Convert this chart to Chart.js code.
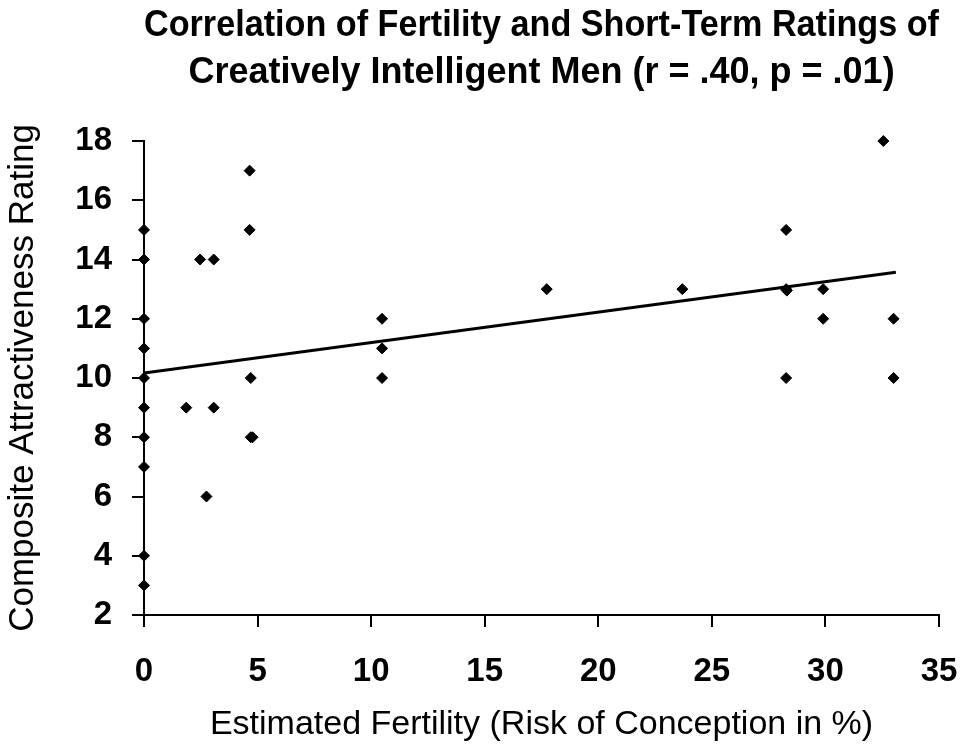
<!DOCTYPE html>
<html lang="en">
<head>
<meta charset="UTF-8">
<title>Fertility and Short-Term Ratings</title>
<script src="https://cdn.jsdelivr.net/npm/chart.js"></script>
<style>
  html, body { margin: 0; padding: 0; background: #fff; }
  #wrap { width: 965px; height: 747px; }
</style>
</head>
<body>
<div id="wrap"><canvas id="chart" width="965" height="747"></canvas></div>
<script>
// values
const fertility = [0, 0, 0, 0, 0, 0, 0, 0, 0, 0,
                   1.86, 2.47, 2.75, 3.07, 3.07,
                   4.65, 4.65, 4.7, 4.7, 4.78,
                   10.48, 10.48, 10.48,
                   17.73, 23.7,
                   28.27, 28.27, 28.3, 28.27,
                   29.9, 29.9, 32.55, 33.0, 33.0];
const rating    = [15, 14, 12, 11, 10, 9, 8, 7, 4, 3,
                   9, 14, 6, 14, 9,
                   17, 15, 10, 8, 8,
                   12, 11, 10,
                   13, 13,
                   15, 13, 12.95, 10,
                   13, 12, 18, 12, 10];

// fitted regression line (end points)
const trendX = [0, 33.1];
const trendY = [10.17, 13.57];

const xTickValues = [0, 5, 10, 15, 20, 25, 30, 35];
const yTickValues = [2, 4, 6, 8, 10, 12, 14, 16, 18];

const chartTitle = ['Correlation of Fertility and Short-Term Ratings of',
                    'Creatively Intelligent Men (r = .40, p = .01)'];
const xTitle = 'Estimated Fertility (Risk of Conception in %)';
const yTitle = 'Composite Attractiveness Rating';

const sans = "'Liberation Sans', Arial, sans-serif";

const points = fertility.map((x, i) => ({ x: x, y: rating[i] }));
const trend = trendX.map((x, i) => ({ x: x, y: trendY[i] }));

function axisGrid() {
    return { display: true, drawOnChartArea: false, drawTicks: true, tickLength: 12, color: '#000', lineWidth: 2 };
}

new Chart(document.getElementById('chart').getContext('2d'), {
    type: 'scatter',
    data: {
        datasets: [{
            data: points,
            pointStyle: 'rectRot',
            pointRadius: 5.5,
            backgroundColor: '#000',
            borderColor: '#000',
            borderWidth: 1,
            clip: false
        }, {
            data: trend,
            showLine: true,
            borderColor: '#000',
            borderWidth: 3,
            pointRadius: 0,
            fill: false
        }]
    },
    options: {
        responsive: false,
        animation: false,
        devicePixelRatio: 1,
        layout: { padding: { left: 0, right: 26, top: 0, bottom: 0 } },
        plugins: {
            legend: { display: false },
            tooltip: { enabled: false },
            title: {
                display: true,
                text: chartTitle,
                color: '#000',
                fullSize: false,
                font: { family: sans, size: 36, weight: 'bold', lineHeight: 1.3056 },
                padding: { top: 3, bottom: 44 }
            }
        },
        scales: {
            x: {
                type: 'linear',
                position: 'bottom',
                min: 0,
                max: 35,
                afterBuildTicks: s => { s.ticks = xTickValues.map(v => ({ value: v })); },
                afterFit: s => { s.height = 132; s.paddingLeft = 0; s.paddingRight = 0; },
                grid: axisGrid(),
                border: { display: true, color: '#000', width: 2 },
                ticks: { color: '#000', padding: 25, maxRotation: 0, autoSkip: false,
                         font: { family: sans, size: 33, weight: 'bold' } },
                title: { display: true, text: xTitle, color: '#000',
                         font: { family: sans, size: 34 }, padding: { top: 0, bottom: 2 } }
            },
            y: {
                type: 'linear',
                position: 'left',
                min: 2,
                max: 18,
                afterBuildTicks: s => { s.ticks = yTickValues.map(v => ({ value: v })); },
                afterFit: s => { s.width = 144; },
                grid: axisGrid(),
                border: { display: true, color: '#000', width: 2 },
                ticks: { color: '#000', padding: 20, autoSkip: false,
                         font: { family: sans, size: 33, weight: 'bold' } },
                title: { display: true, text: yTitle, color: '#000',
                         font: { family: sans, size: 35 }, padding: { top: 2, bottom: 0 } }
            }
        }
    }
});
</script>
</body>
</html>
